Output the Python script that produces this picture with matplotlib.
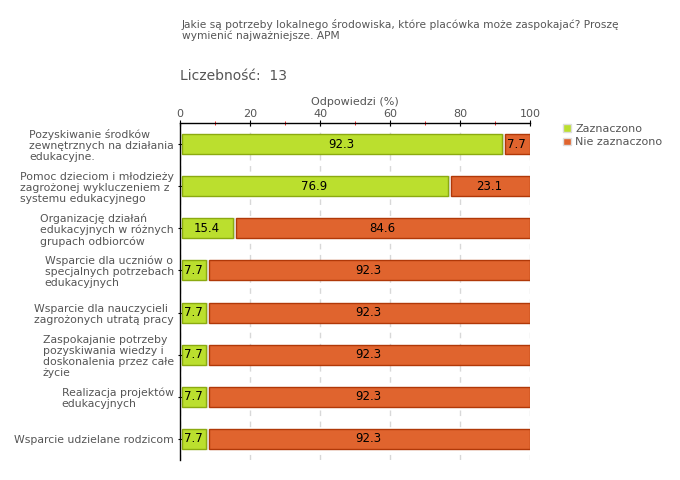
import matplotlib.pyplot as plt
from matplotlib.patches import Patch
import numpy as np

categories = [
    'Pozyskiwanie środków\nzewnętrznych na działania\nedukacyjne.',
    'Pomoc dzieciom i młodzieży\nzagrożonej wykluczeniem z\nsystemu edukacyjnego',
    'Organizację działań\nedukacyjnych w różnych\ngrupach odbiorców',
    'Wsparcie dla uczniów o\nspecjalnych potrzebach\nedukacyjnych',
    'Wsparcie dla nauczycieli\nzagrożonych utratą pracy',
    'Zaspokajanie potrzeby\npozyskiwania wiedzy i\ndoskonalenia przez całe\nżycie',
    'Realizacja projektów\nedukacyjnych',
    'Wsparcie udzielane rodzicom',
]
zaznaczono = [92.3, 76.9, 15.4, 7.7, 7.7, 7.7, 7.7, 7.7]
nie_zaznaczono = [7.7, 23.1, 84.6, 92.3, 92.3, 92.3, 92.3, 92.3]
series_names = ['Zaznaczono', 'Nie zaznaczono']

green, green_edge = '#BBDF2E', '#8BAA10'
orange, orange_edge = '#E0642E', '#B03808'
text_color = '#555555'

fig = plt.figure(figsize=(6.8, 4.8), dpi=100)
ax = fig.add_axes([180 / 680, 1 - 460 / 480, 350 / 680, 337 / 480])

y = np.arange(len(categories))
bar_h = 0.475
for i in y:
    g = zaznaczono[i]
    o = nie_zaznaczono[i]
    ax.barh(i, g - 0.9, left=0.5, height=bar_h, color=green,
            edgecolor=green_edge, linewidth=1, zorder=2)
    ax.barh(i, o - 0.6, left=g + 0.6, height=bar_h, color=orange,
            edgecolor=orange_edge, linewidth=1, zorder=2)
    # faint separator in the gap
    ax.plot([g + 0.1, g + 0.1], [i - bar_h / 2, i + bar_h / 2], color='#dddddd',
            linewidth=1, zorder=1)
    ax.text(g / 2, i, f'{g:.1f}', ha='center', va='center', fontsize=8.5, color='black', zorder=3)
    ax.text(g + o / 2, i, f'{o:.1f}', ha='center', va='center', fontsize=8.5, color='black', zorder=3)

ax.set_xlim(0, 100)
ax.set_ylim(len(categories) - 0.5, -0.5)
ax.set_yticks(y)
ax.set_yticklabels(categories, fontsize=7.8, color=text_color, linespacing=1.12,
                   multialignment='left')
ax.xaxis.set_ticks_position('top')
ax.xaxis.set_label_position('top')
ax.set_xticks([0, 20, 40, 60, 80, 100])
ax.set_xticks([10, 30, 50, 70, 90], minor=True)
ax.grid(axis='x', which='major', color='#d8d8d8', linestyle=(0, (4, 4)), linewidth=1, zorder=0)
ax.set_axisbelow(True)
ax.tick_params(axis='x', which='major', labelsize=8, labelcolor=text_color,
               length=4, direction='inout', pad=1)
ax.tick_params(axis='x', which='minor', length=3, color='red', direction='inout')
ax.tick_params(axis='y', length=3, direction='inout', pad=3)
ax.set_xlabel('Odpowiedzi (%)', fontsize=8, color=text_color, labelpad=3)
for s in ['right', 'bottom']:
    ax.spines[s].set_visible(False)
ax.spines['left'].set_linewidth(1)
ax.spines['top'].set_linewidth(1)

fig.text(182 / 680, 1 - 30 / 480,
         'Jakie są potrzeby lokalnego środowiska, które placówka może zaspokajać? Proszę\nwymienić najważniejsze. APM',
         fontsize=7.7, color=text_color, va='center', linespacing=1.0)
fig.text(180 / 680, 1 - 76 / 480, 'Liczebność:  13', fontsize=10, color=text_color, va='center')

handles = [Patch(facecolor=green, edgecolor='#dddddd'), Patch(facecolor=orange, edgecolor='#dddddd')]
fig.legend(handles, series_names, loc='upper left', bbox_to_anchor=(553 / 680, 1 - 114 / 480),
           frameon=False, fontsize=8, handlelength=0.7, handleheight=0.7,
           handletextpad=0.4, labelspacing=0.3, labelcolor=text_color)

fig.savefig('out.png', dpi=100)
